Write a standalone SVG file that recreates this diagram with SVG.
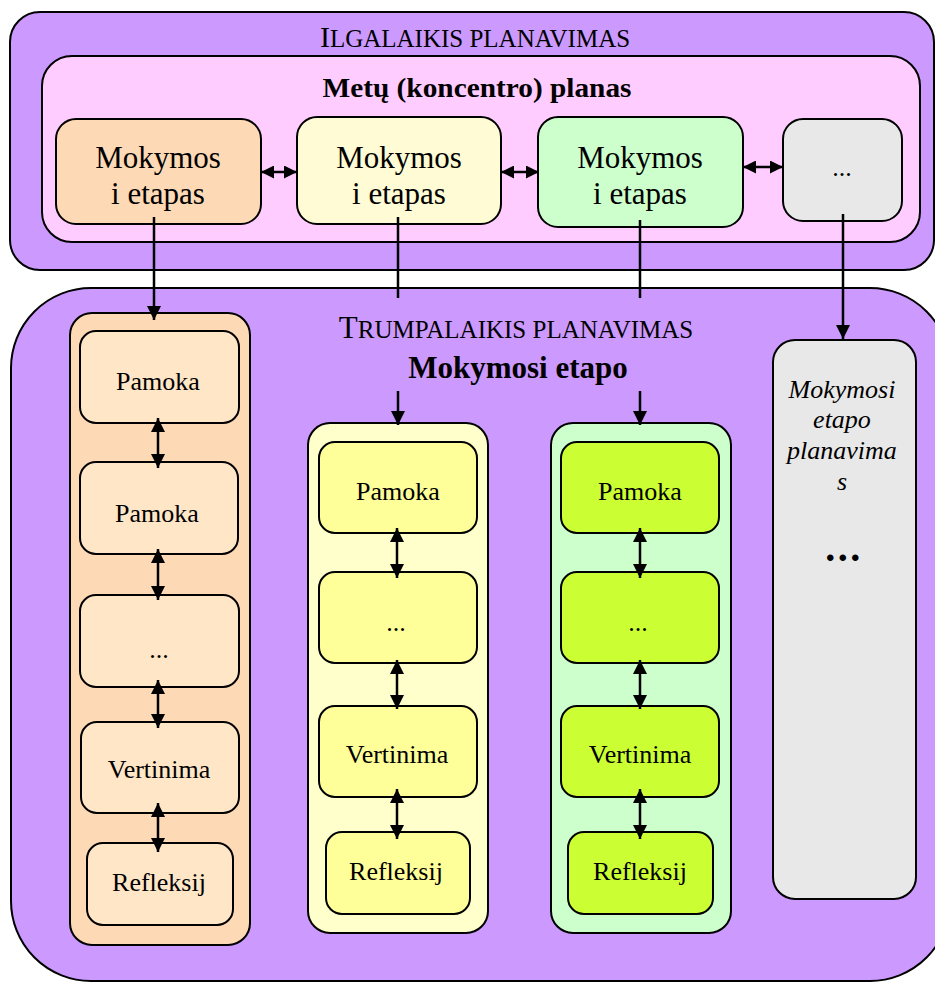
<svg xmlns="http://www.w3.org/2000/svg" width="935" height="982" viewBox="0 0 935 982">
<style>
.b{stroke:#000;stroke-width:2}
.t{font-family:"Liberation Serif","Times New Roman",serif;fill:#000;text-anchor:middle}
.c{stroke:#000;stroke-width:2.5;fill:none}
</style>
<defs>
<marker id="ah" markerUnits="userSpaceOnUse" viewBox="0 0 14 14" refX="14" refY="7" markerWidth="14" markerHeight="14" orient="auto-start-reverse"><path d="M0,0 L14,7 L0,14 z" fill="#000"/></marker>
<marker id="ahs" markerUnits="userSpaceOnUse" viewBox="0 0 13 13" refX="13" refY="6.5" markerWidth="13" markerHeight="13" orient="auto-start-reverse"><path d="M0,0 L13,6.5 L0,13 z" fill="#000"/></marker>
</defs>
<rect width="935" height="982" fill="#fff"/>

<g id="ilgalaikis">
<rect class="b" x="10" y="12" width="924" height="258" rx="30" fill="#cc99ff"/>
<text class="t" x="475" y="47"><tspan font-size="30">I</tspan><tspan font-size="25">LGALAIKIS PLANAVIMAS</tspan></text>
</g>
<g id="metu-planas">
<rect class="b" x="42" y="56" width="878" height="186" rx="30" fill="#ffccff"/>
<text class="t" x="477" y="97" font-size="28" font-weight="bold" textLength="309" lengthAdjust="spacingAndGlyphs">Metų (koncentro) planas</text>
</g>
<g id="etapas1">
<rect class="b" x="56" y="119" width="205" height="105" rx="20" fill="#fed9b5"/>
<text class="t" x="158" y="168" font-size="31">Mokymos</text>
<text class="t" x="158" y="204" font-size="31">i etapas</text>
</g>
<g id="etapas2">
<rect class="b" x="297" y="117" width="204" height="107" rx="20" fill="#fffbd4"/>
<text class="t" x="399" y="168" font-size="31">Mokymos</text>
<text class="t" x="399" y="204" font-size="31">i etapas</text>
</g>
<g id="etapas3">
<rect class="b" x="538" y="117" width="205" height="110" rx="20" fill="#ccffcc"/>
<text class="t" x="640" y="168" font-size="31">Mokymos</text>
<text class="t" x="640" y="204" font-size="31">i etapas</text>
</g>
<g id="etapas4">
<rect class="b" x="783" y="119" width="119" height="102" rx="20" fill="#e8e8e8"/>
<text class="t" x="842" y="176" font-size="26">...</text>
</g>

<g id="trumpalaikis">
<rect class="b" x="11" y="288" width="939" height="693" rx="80" fill="#cc99ff"/>
<text class="t" x="516" y="338"><tspan font-size="31">T</tspan><tspan font-size="25">RUMPALAIKIS PLANAVIMAS</tspan></text>
<text class="t" x="518" y="378" font-size="31" font-weight="bold">Mokymosi etapo</text>
</g>

<g id="stulpelis1">
<rect class="b" x="70" y="313" width="180" height="632" rx="22" fill="#fed9b5"/>
</g>
<g id="s1-pamoka1"><rect class="b" x="80" y="331" width="159" height="92" rx="16" fill="#ffe6c7"/><text class="t" x="158" y="390" font-size="26">Pamoka</text></g>
<g id="s1-pamoka2"><rect class="b" x="80" y="462" width="158" height="92" rx="16" fill="#ffe6c7"/><text class="t" x="157" y="522" font-size="26">Pamoka</text></g>
<g id="s1-dots"><rect class="b" x="80" y="595" width="159" height="92" rx="16" fill="#ffe6c7"/><text class="t" x="159" y="658" font-size="26">...</text></g>
<g id="s1-vertinima"><rect class="b" x="81" y="722" width="158" height="91" rx="16" fill="#ffe6c7"/><text class="t" x="159" y="778" font-size="26">Vertinima</text></g>
<g id="s1-refleksij"><rect class="b" x="87" y="843" width="146" height="82" rx="16" fill="#ffe6c7"/><text class="t" x="159" y="891" font-size="26">Refleksij</text></g>

<g id="stulpelis2">
<rect class="b" x="308" y="423" width="180" height="510" rx="22" fill="#ffffcc"/>
</g>
<g id="s2-pamoka"><rect class="b" x="319" y="442" width="158" height="91" rx="16" fill="#ffff99"/><text class="t" x="398" y="500" font-size="26">Pamoka</text></g>
<g id="s2-dots"><rect class="b" x="319" y="572" width="158" height="91" rx="16" fill="#ffff99"/><text class="t" x="396" y="631" font-size="26">...</text></g>
<g id="s2-vertinima"><rect class="b" x="319" y="706" width="158" height="91" rx="16" fill="#ffff99"/><text class="t" x="397" y="763" font-size="26">Vertinima</text></g>
<g id="s2-refleksij"><rect class="b" x="326" y="832" width="144" height="82" rx="16" fill="#ffff99"/><text class="t" x="396" y="880" font-size="26">Refleksij</text></g>

<g id="stulpelis3">
<rect class="b" x="551" y="423" width="180" height="510" rx="22" fill="#ccffcc"/>
</g>
<g id="s3-pamoka"><rect class="b" x="561" y="442" width="158" height="91" rx="16" fill="#ccff33"/><text class="t" x="640" y="500" font-size="26">Pamoka</text></g>
<g id="s3-dots"><rect class="b" x="561" y="572" width="158" height="91" rx="16" fill="#ccff33"/><text class="t" x="638" y="631" font-size="26">...</text></g>
<g id="s3-vertinima"><rect class="b" x="561" y="706" width="158" height="91" rx="16" fill="#ccff33"/><text class="t" x="640" y="763" font-size="26">Vertinima</text></g>
<g id="s3-refleksij"><rect class="b" x="568" y="832" width="145" height="82" rx="16" fill="#ccff33"/><text class="t" x="640" y="880" font-size="26">Refleksij</text></g>

<g id="stulpelis4">
<rect class="b" x="773" y="340" width="143" height="559" rx="22" fill="#e8e8e8"/>
<text class="t" x="842" y="398" font-size="26" font-style="italic">Mokymosi</text>
<text class="t" x="842" y="428" font-size="26" font-style="italic">etapo</text>
<text class="t" x="842" y="459" font-size="26" font-style="italic">planavima</text>
<text class="t" x="842" y="490" font-size="26" font-style="italic">s</text>
<text class="t" x="844" y="561" font-size="40" font-weight="bold" letter-spacing="2.5">...</text>
</g>

<g id="connectors">
<line class="c" x1="261" y1="172" x2="297" y2="172" marker-start="url(#ahs)" marker-end="url(#ahs)"/>
<line class="c" x1="501" y1="172" x2="539" y2="172" marker-start="url(#ahs)" marker-end="url(#ahs)"/>
<line class="c" x1="743" y1="167" x2="783" y2="167" marker-start="url(#ahs)" marker-end="url(#ahs)"/>

<line class="c" x1="154" y1="217" x2="154" y2="320" marker-end="url(#ah)"/>
<line class="c" x1="398" y1="217" x2="398" y2="298"/>
<line class="c" x1="640" y1="220" x2="640" y2="298"/>
<line class="c" x1="843" y1="214" x2="843" y2="339" marker-end="url(#ah)"/>
<line class="c" x1="398" y1="391" x2="398" y2="425" marker-end="url(#ah)"/>
<line class="c" x1="640" y1="391" x2="640" y2="425" marker-end="url(#ah)"/>

<line class="c" x1="158" y1="418" x2="158" y2="468" marker-start="url(#ah)" marker-end="url(#ah)"/>
<line class="c" x1="158" y1="549" x2="158" y2="600" marker-start="url(#ah)" marker-end="url(#ah)"/>
<line class="c" x1="158" y1="680" x2="158" y2="728" marker-start="url(#ah)" marker-end="url(#ah)"/>
<line class="c" x1="158" y1="803" x2="158" y2="852" marker-start="url(#ah)" marker-end="url(#ah)"/>

<line class="c" x1="397" y1="528" x2="397" y2="578" marker-start="url(#ah)" marker-end="url(#ah)"/>
<line class="c" x1="397" y1="660" x2="397" y2="709" marker-start="url(#ah)" marker-end="url(#ah)"/>
<line class="c" x1="397" y1="789" x2="397" y2="839" marker-start="url(#ah)" marker-end="url(#ah)"/>

<line class="c" x1="640" y1="528" x2="640" y2="578" marker-start="url(#ah)" marker-end="url(#ah)"/>
<line class="c" x1="640" y1="660" x2="640" y2="709" marker-start="url(#ah)" marker-end="url(#ah)"/>
<line class="c" x1="640" y1="789" x2="640" y2="839" marker-start="url(#ah)" marker-end="url(#ah)"/>
</g>
</svg>
